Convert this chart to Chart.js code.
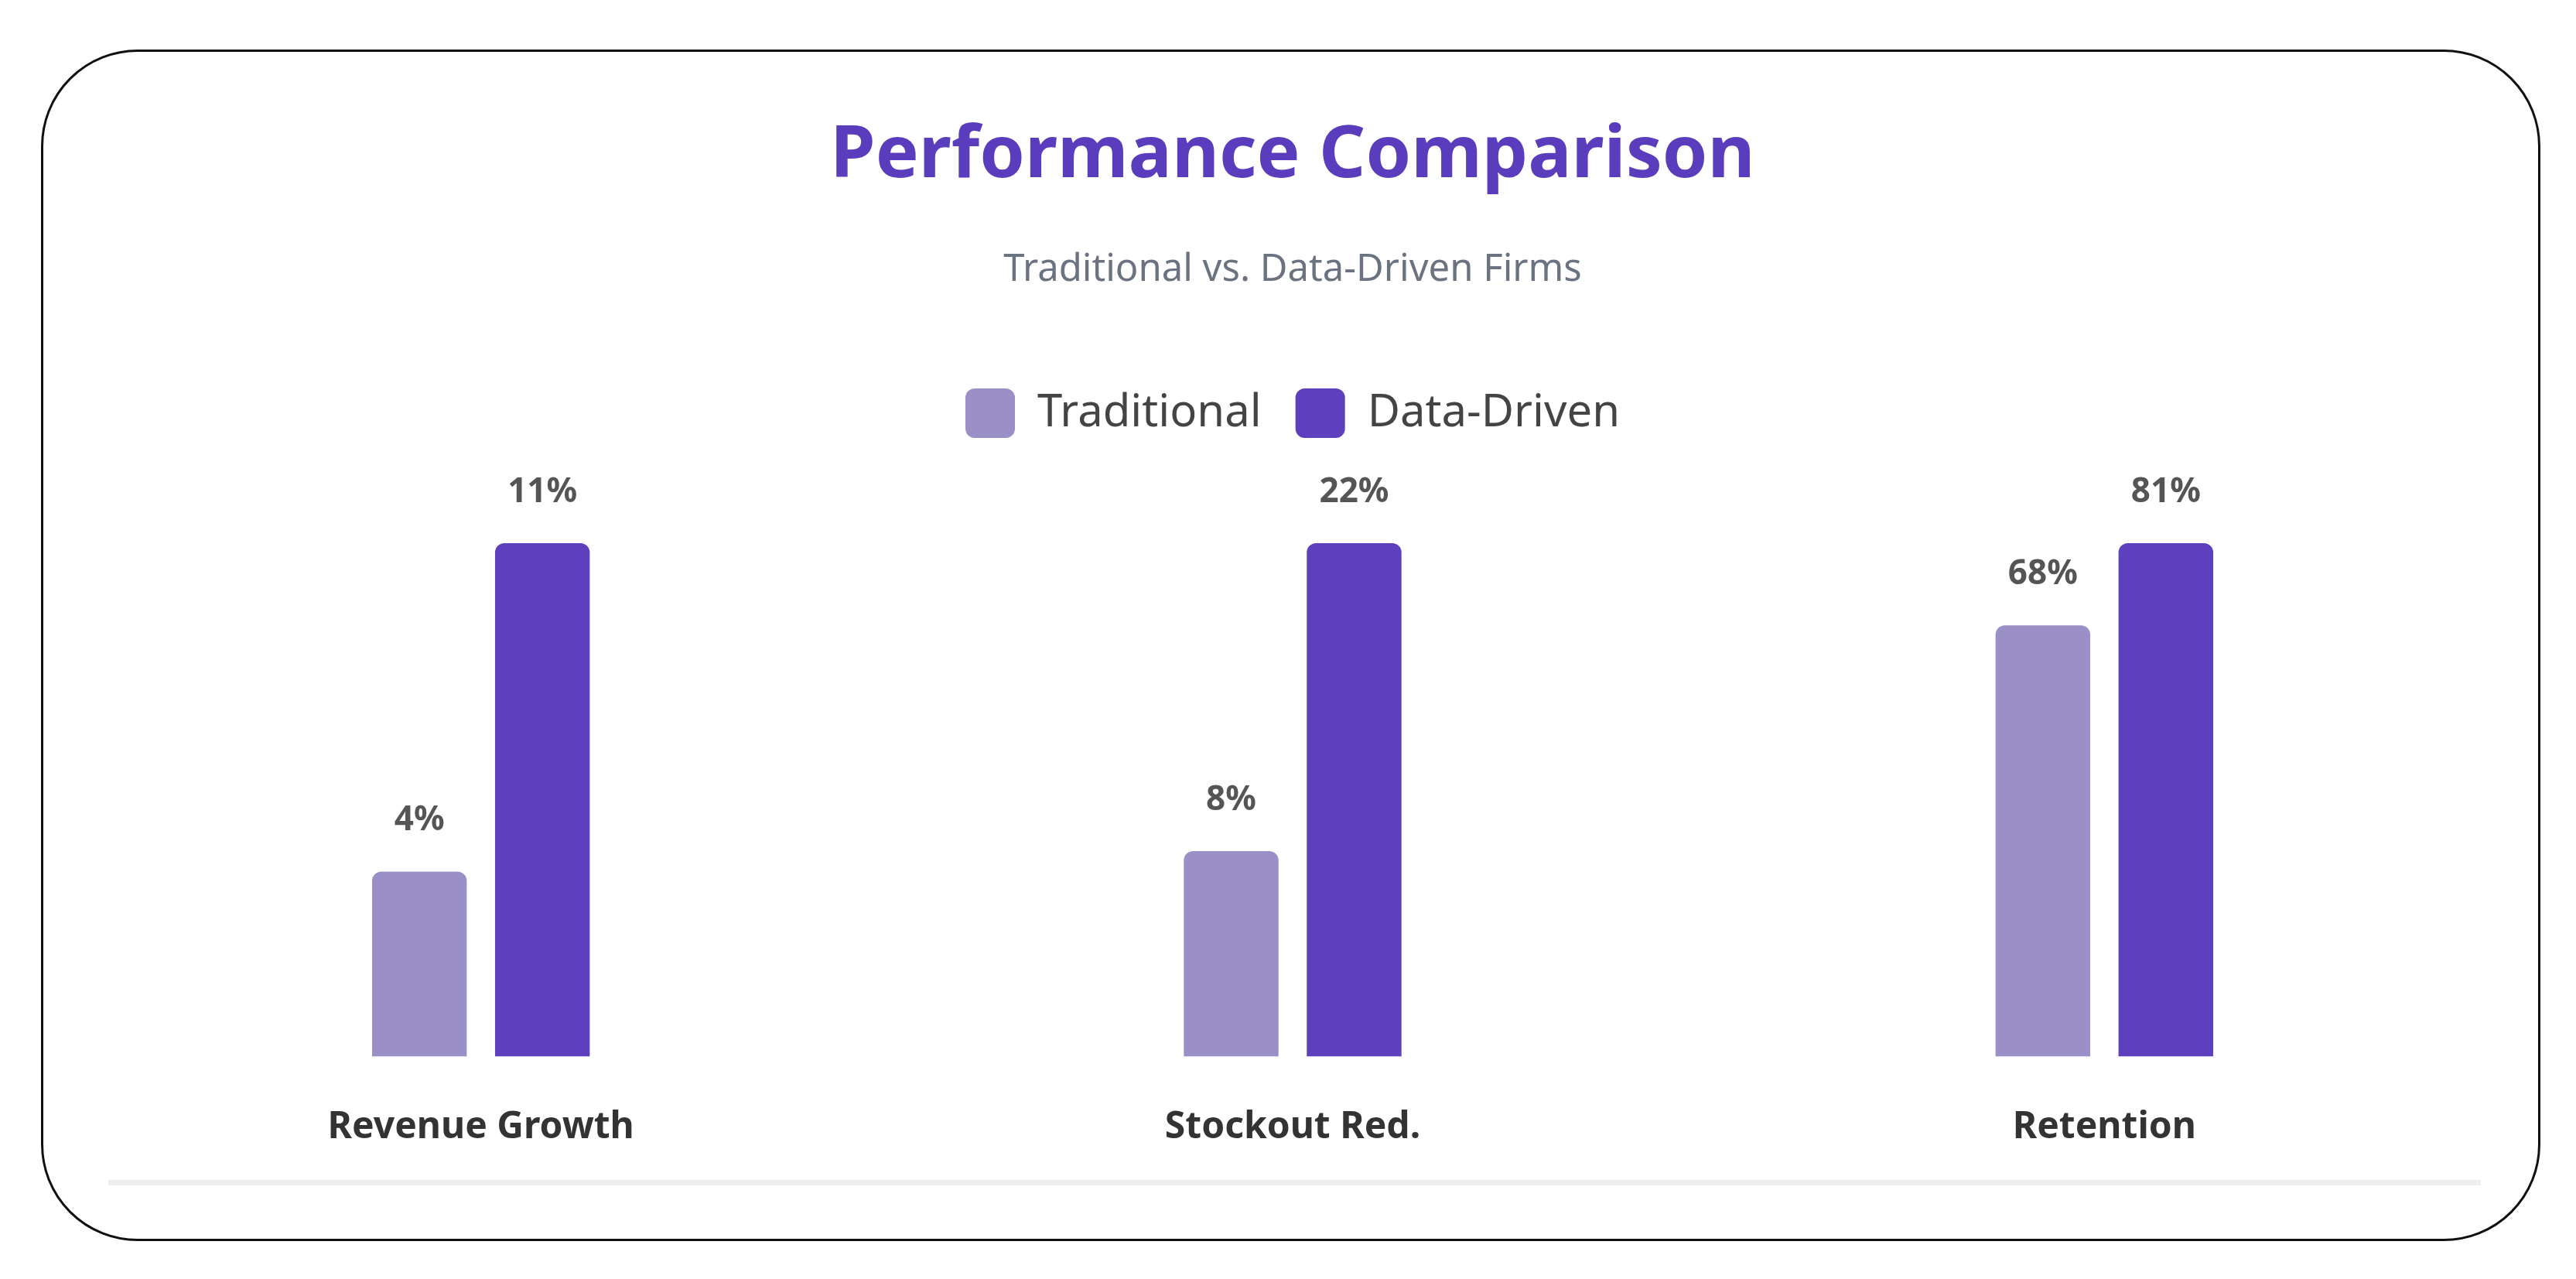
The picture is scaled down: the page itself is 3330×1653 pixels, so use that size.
<!DOCTYPE html>
<html><head><meta charset="utf-8">
<script src="https://cdn.jsdelivr.net/npm/chart.js@4"></script>
<style>
html,body{margin:0;padding:0;background:#fff;width:3330px;height:1653px;overflow:hidden;font-family:"Noto Sans",sans-serif}
#card{position:absolute;left:53px;top:64px;width:3231px;height:1540px;border:3px solid #111;border-radius:125px;box-sizing:border-box}
#rule{position:absolute;left:140px;top:1525px;width:3067px;height:7px;background:#eeeef0}
#wrap{position:absolute;left:97px;top:108px;width:3148px;height:1433px}
</style></head><body>
<div id="card"></div><div id="rule"></div>
<div id="wrap"><canvas id="c"></canvas></div>
<script>
const categories = ["Revenue Growth", "Stockout Red.", "Retention"];
const traditionalLabels = ["4%", "8%", "68%"];
const dataDrivenLabels = ["11%", "22%", "81%"];
// bar heights as drawn in the reference (relative to tallest bar in each group)
const traditionalHeights = [36, 40, 84];
const dataDrivenHeights = [100, 100, 100];
const seriesNames = ["Traditional", "Data-Driven"];
const valueLabels = [traditionalLabels, dataDrivenLabels];

const F = "'Noto Sans', sans-serif";
const valuePlugin = {
  id: 'vals',
  afterDatasetsDraw(chart) {
    const ctx = chart.ctx;
    ctx.save();
    ctx.font = "bold 44px " + F;
    ctx.fillStyle = "#555555";
    ctx.textAlign = "center";
    ctx.textBaseline = "middle";
    chart.data.datasets.forEach((ds, i) => {
      chart.getDatasetMeta(i).data.forEach((bar, j) => {
        ctx.fillText(valueLabels[i][j], bar.x, bar.y - 66);
      });
    });
    ctx.restore();
  }
};

new Chart(document.getElementById('c'), {
  type: 'bar',
  data: {
    labels: categories,
    datasets: [
      { label: seriesNames[0], data: traditionalHeights, backgroundColor: '#9b8fc7', borderRadius: 12, borderSkipped: 'bottom' },
      { label: seriesNames[1], data: dataDrivenHeights, backgroundColor: '#5e3fbd', borderRadius: 12, borderSkipped: 'bottom' }
    ]
  },
  options: {
    responsive: true, maintainAspectRatio: false, animation: false,
    devicePixelRatio: 1,
    datasets: { bar: { categoryPercentage: 0.303, barPercentage: 0.77 } },
    layout: { padding: { bottom: 0 } },
    plugins: {
      title: { display: true, text: 'Performance Comparison', color: '#5a3dbd',
        font: { family: F, size: 94, weight: 'bold', lineHeight: 1 }, padding: { top: 47, bottom: 76 } },
      subtitle: { display: true, text: 'Traditional vs. Data-Driven Firms', color: '#6b7280',
        font: { family: F, size: 49, lineHeight: 1 }, padding: { bottom: 84 } },
      legend: { display: true, position: 'top',
        labels: { boxWidth: 64, boxHeight: 64, useBorderRadius: true, borderRadius: 12, padding: 44,
          color: '#444', font: { family: F, size: 58 } } },
      tooltip: { enabled: false }
    },
    scales: {
      x: { grid: { display: false }, border: { display: false },
        ticks: { color: '#333', padding: 55, font: { family: F, size: 48, weight: 'bold' } } },
      y: { display: false, min: 0, max: 119 }
    }
  },
  plugins: [valuePlugin]
});
</script></body></html>
